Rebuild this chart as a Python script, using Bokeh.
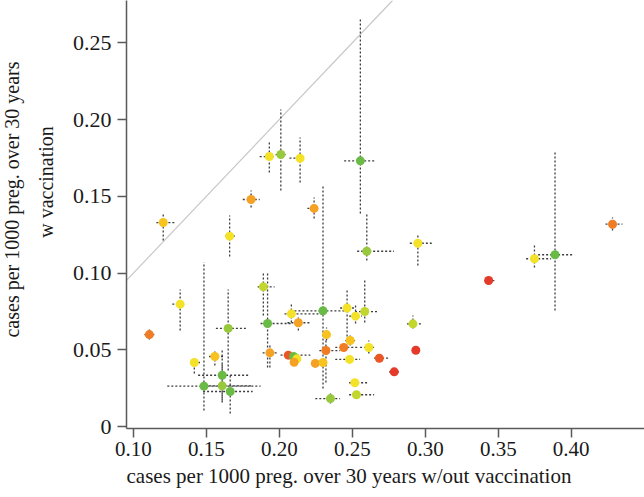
from bokeh.plotting import figure
from bokeh.models import Range1d, FixedTicker, Title, Slope, ColumnDataSource
from bokeh.embed import file_html
from bokeh.resources import INLINE

# ---- data ----
x_noVacc = [0.1109, 0.1204, 0.1320, 0.1417, 0.1558, 0.1659, 0.1649, 0.1608, 0.1483, 0.1608,
            0.1663, 0.1890, 0.1919, 0.1935, 0.2082, 0.2130, 0.2299, 0.2323, 0.2319, 0.2061,
            0.2097, 0.2120, 0.2101, 0.2246, 0.2299, 0.2350, 0.2464, 0.2522, 0.2585, 0.2485,
            0.2441, 0.2613, 0.2481, 0.2685, 0.2787, 0.2517, 0.2528, 0.2915, 0.2935, 0.2599,
            0.2555, 0.2949, 0.3434, 0.3748, 0.3889, 0.4283, 0.1806, 0.1931, 0.2010, 0.2142,
            0.2238]
y_vacc = [0.0599, 0.1329, 0.0797, 0.0417, 0.0456, 0.1240, 0.0639, 0.0334, 0.0263, 0.0265,
          0.0228, 0.0910, 0.0671, 0.0480, 0.0734, 0.0676, 0.0754, 0.0599, 0.0495, 0.0465,
          0.0456, 0.0441, 0.0419, 0.0411, 0.0417, 0.0182, 0.0772, 0.0719, 0.0749, 0.0560,
          0.0515, 0.0515, 0.0437, 0.0445, 0.0356, 0.0285, 0.0207, 0.0669, 0.0497, 0.1142,
          0.1731, 0.1194, 0.0951, 0.1093, 0.1119, 0.1318, 0.1479, 0.1759, 0.1772, 0.1748,
          0.1421]
x_low = [0.1075, 0.1157, 0.1266, 0.1388, 0.1518, 0.1627, 0.1565, 0.1443, 0.1232, 0.1463,
         0.1477, 0.1851, 0.1871, 0.1885, 0.2035, 0.2055, 0.2103, 0.2294, 0.2274, 0.2008,
         0.2097, 0.2120, 0.2101, 0.2246, 0.2299, 0.2246, 0.2416, 0.2478, 0.2518, 0.2451,
         0.2383, 0.2553, 0.2383, 0.2649, 0.2751, 0.2478, 0.2478, 0.2874, 0.2935, 0.2533,
         0.2444, 0.2894, 0.3405, 0.3691, 0.3773, 0.4235, 0.1749, 0.1865, 0.1974, 0.2069,
         0.2192]
x_high = [0.1143, 0.1286, 0.1347, 0.1456, 0.1627, 0.1695, 0.1783, 0.1790, 0.1871, 0.1817,
          0.1817, 0.1967, 0.2089, 0.1987, 0.2293, 0.2212, 0.2464, 0.2349, 0.2417, 0.2212,
          0.2097, 0.2120, 0.2101, 0.2246, 0.2299, 0.2416, 0.2511, 0.2566, 0.2681, 0.2519,
          0.2533, 0.2656, 0.2553, 0.2751, 0.2826, 0.2601, 0.2649, 0.2976, 0.2935, 0.2785,
          0.2655, 0.3044, 0.3473, 0.3862, 0.4011, 0.4351, 0.1865, 0.1974, 0.2049, 0.2178,
          0.2274]
y_low = [0.0567, 0.1212, 0.0626, 0.0345, 0.0397, 0.1108, 0.0365, 0.0169, 0.0104, 0.0156,
         0.0085, 0.0723, 0.0384, 0.0384, 0.0678, 0.0626, 0.0248, 0.0560, 0.0287, 0.0465,
         0.0430, 0.0441, 0.0419, 0.0411, 0.0417, 0.0150, 0.0560, 0.0671, 0.0678, 0.0528,
         0.0515, 0.0476, 0.0437, 0.0445, 0.0356, 0.0285, 0.0207, 0.0639, 0.0497, 0.1082,
         0.1388, 0.1049, 0.0951, 0.1036, 0.0756, 0.1277, 0.1427, 0.1655, 0.1538, 0.1590,
         0.1355]
y_high = [0.0632, 0.1388, 0.0893, 0.0450, 0.0502, 0.1375, 0.0893, 0.0495, 0.1071, 0.0417,
          0.0345, 0.1005, 0.0997, 0.0528, 0.0801, 0.0710, 0.1564, 0.0645, 0.0560, 0.0465,
          0.0480, 0.0441, 0.0419, 0.0411, 0.0417, 0.0222, 0.0886, 0.0801, 0.0951, 0.0606,
          0.0515, 0.0560, 0.0437, 0.0445, 0.0356, 0.0285, 0.0207, 0.0723, 0.0497, 0.1388,
          0.2658, 0.1245, 0.0951, 0.1179, 0.1798, 0.1362, 0.1538, 0.1864, 0.2066, 0.1883,
          0.1492]
level = [2, 4, 5, 5, 4, 5, 7, 8, 8, 7,
         8, 6, 8, 3, 5, 3, 8, 4, 2, 1,
         8, 5, 3, 3, 4, 7, 5, 5, 6, 4,
         2, 5, 5, 1, 0, 5, 6, 6, 0, 7,
         8, 5, 0, 5, 8, 2, 3, 5, 7, 5,
         3]
palette = ["#e5392a", "#eb5626", "#f07c24", "#f5a124", "#f8c21f",
           "#f3e227", "#c3d630", "#98c83c", "#69bb46"]

x_ticks = [0.10, 0.15, 0.20, 0.25, 0.30, 0.35, 0.40]
x_tick_labels = ["0.10", "0.15", "0.20", "0.25", "0.30", "0.35", "0.40"]
y_ticks = [0.0, 0.05, 0.10, 0.15, 0.20, 0.25]
y_tick_labels = ["0", "0.05", "0.10", "0.15", "0.20", "0.25"]

x_title = "cases per 1000 preg. over 30 years w/out vaccination"
y_title_1 = "cases per 1000 preg. over 30 years"
y_title_2 = "w vaccination"

# ---- figure ----
SERIF = "Liberation Serif"
NBSP = "\u00a0"
p = figure(width=644, height=497, output_backend="svg", toolbar_location=None,
           x_range=Range1d(0.09523, 0.45021), y_range=Range1d(-0.0013, 0.27756),
           min_border_left=123, min_border_right=0, min_border_top=0, min_border_bottom=69)
p.outline_line_color = None
p.background_fill_color = "white"
p.border_fill_color = "white"
p.xgrid.visible = False
p.ygrid.visible = False

for ax, ticks, labels, size, standoff in (
        (p.xaxis[0], x_ticks, x_tick_labels, "21px", 4),
        (p.yaxis[0], y_ticks, y_tick_labels, "22px", 6)):
    ax.ticker = FixedTicker(ticks=ticks)
    ax.major_label_overrides = {t: l for t, l in zip(ticks, labels)}
    ax.axis_line_color = "#5a5a5a"
    ax.axis_line_width = 1.5
    ax.major_tick_line_color = "#5a5a5a"
    ax.major_tick_line_width = 1.5
    ax.major_tick_out = 9
    ax.major_tick_in = 0
    ax.minor_tick_line_color = None
    ax.major_label_text_font = SERIF
    ax.major_label_text_font_size = size
    ax.major_label_text_color = "#1a1a1a"
    ax.major_label_standoff = standoff
p.yaxis[0].major_label_orientation = "horizontal"

# diagonal y = x
p.add_layout(Slope(gradient=1, y_intercept=0, line_color="#c8c8c8", line_width=1.2,
                   level="underlay"))

src = ColumnDataSource(dict(x=x_noVacc, y=y_vacc, xlo=x_low, xhi=x_high,
                            ylo=y_low, yhi=y_high,
                            color=[palette[k] for k in level]))

p.segment(x0="xlo", x1="xhi", y0="y", y1="y", source=src,
          line_color="#3c3c3c", line_width=1.3, line_dash="2 2")
p.segment(x0="x", x1="x", y0="ylo", y1="yhi", source=src,
          line_color="#3c3c3c", line_width=1.3, line_dash="2 2")
p.scatter(x="x", y="y", source=src, size=9, fill_color="color", line_color=None)

# axis titles as side-panel titles (not clipped by the frame)
t_kw = dict(text_font=SERIF, text_font_style="normal", text_color="#1a1a1a")
p.add_layout(Title(text=x_title, align="left", vertical_align="bottom", standoff=7,
                   text_font_size="21px", **t_kw), "below")
p.add_layout(Title(text=NBSP * 13 + y_title_2, align="center", vertical_align="top",
                   standoff=21, text_font_size="20px", **t_kw), "left")
p.add_layout(Title(text=NBSP * 6 + y_title_1, align="center", vertical_align="top",
                   standoff=0, text_font_size="20px", **t_kw), "left")

open("out.html", "w").write(file_html(p, INLINE))
